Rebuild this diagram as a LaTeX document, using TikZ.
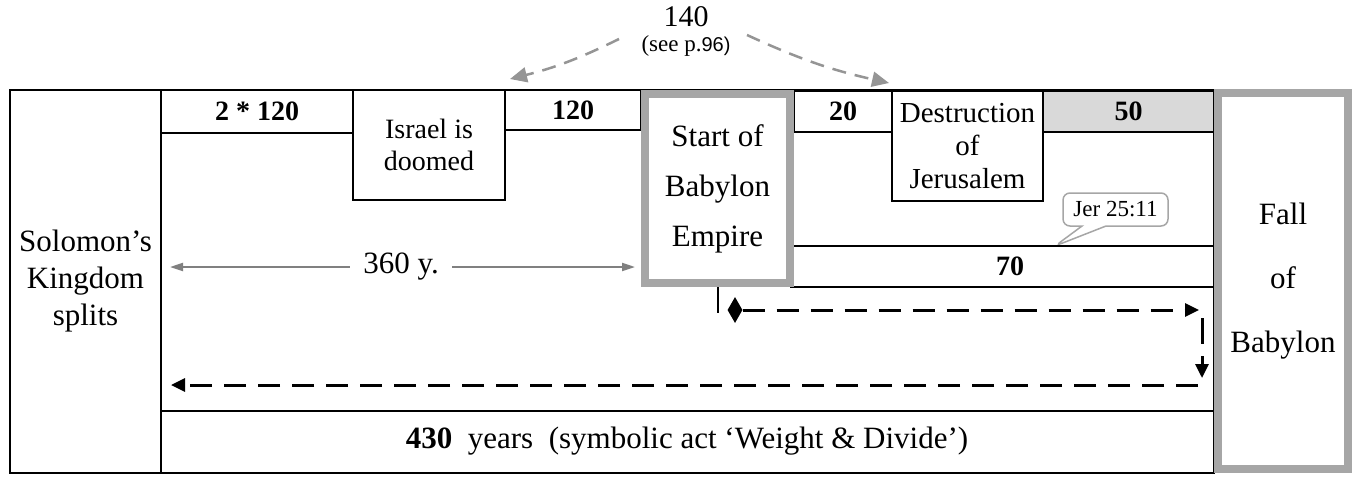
\documentclass[tikz,border=0pt]{standalone}
\usepackage{fontspec}
\setmainfont{Liberation Serif}
\newfontfamily\arialf{Liberation Sans}
\usetikzlibrary{shapes.geometric,shapes.callouts,arrows.meta}
\definecolor{gborder}{HTML}{A6A6A6}
\definecolor{gfill}{HTML}{D9D9D9}
\definecolor{garr}{HTML}{808080}
\begin{document}
\begin{tikzpicture}[x=1pt,y=-1pt,
  box/.style={draw=black, line width=1.5pt, inner sep=0pt, anchor=center},
  gbox/.style={draw=gborder, line width=8pt, inner sep=0pt, fill=white, anchor=center},
  lab/.style={font=\fontsize{31}{37}\selectfont, align=center},
  num/.style={font=\fontsize{28}{32}\selectfont\bfseries},
  thinline/.style={draw=black, line width=1.5pt},
  bigdash/.style={draw=black, line width=3pt, dash pattern=on 22pt off 12pt, -{Triangle[length=14pt,width=13pt]}},
  grayarr/.style={draw=garr, line width=2pt, -{Triangle[length=13pt,width=8pt]}},
  graydash/.style={draw=gborder!90!black, line width=2.5pt, dash pattern=on 14pt off 9pt, -{Triangle[length=17pt,width=15pt]}},
]
\useasboundingbox (0,0) rectangle (1356,477);
\fill[white] (0,0) rectangle (1356,477);

% outer frame
\node[box, minimum width=1204, minimum height=383] (frame) at (612,281.5) {};
% Solomon
\node[box, lab, minimum width=151, minimum height=383] (sol) at (85.5,281.5) {Solomon’s\\Kingdom\\splits};
% top boxes
\node[box, num, minimum width=192, minimum height=43] (b240) at (257,111.5) {2 * 120};
\node[box, lab, font=\fontsize{28}{32}\selectfont, minimum width=152, minimum height=110] (isr) at (429,145) {Israel is\\doomed};
\node[box, num, minimum width=136, minimum height=40] (b120) at (573,110) {120};
\node[box, num, minimum width=98, minimum height=41] (b20) at (843,111.5) {20};
\node[box, lab, font=\fontsize{29}{33}\selectfont, minimum width=151, minimum height=110] (jer) at (967.5,146) {Destruction\\of\\Jerusalem};
\node[box, num, fill=gfill, minimum width=171, minimum height=41] (b50) at (1128.5,111.5) {50};

% seventy lines
\coordinate (s1) at (794,246);
\coordinate (e1) at (1214,246);
\coordinate (s2) at (790,287);
\coordinate (e2) at (1214,287);
\draw[thinline] (s1) -- (e1);
\draw[thinline] (s2) -- (e2);
\node[num] (n70) at (1010,266) {70};

% bottom line
\coordinate (s3) at (161,411);
\coordinate (e3) at (1214,411);
\draw[thinline] (s3) -- (e3);
\node[lab, font=\fontsize{31}{37}\selectfont] (yrs) at (687,441) {\textbf{430}\enspace years\enspace (symbolic act ‘Weight \& Divide’)};

% gray boxes
\node[gbox, lab, font=\fontsize{31}{50}\selectfont, minimum width=145, minimum height=189] (sbe) at (717.5,188.5) {Start of\\Babylon\\Empire};
\node[gbox, lab, font=\fontsize{31}{64}\selectfont, minimum width=130, minimum height=376] (fob) at (1283,281) {Fall\\of\\Babylon};

% callout
\coordinate (tip) at (1055,246);
\node[rectangle callout, draw=gborder, fill=white, line width=1.5pt, rounded corners=7pt,
      callout absolute pointer={(tip)}, callout pointer width=24pt,
      minimum width=105, minimum height=33, inner sep=2pt,
      font=\fontsize{23}{26}\selectfont] (jr) at (1115.5,209.5) {Jer 25:11};

% 360 y.
\node[font=\fontsize{31}{37}\selectfont] (y360) at (401,267) {360 y.};
\coordinate (l360) at (170,267);
\coordinate (r360) at (635,267);
\draw[grayarr] (y360.west) ++(-10,0) -- (l360);
\draw[grayarr] (y360.east) ++(10,0) -- (r360);

% dashed path
\coordinate (v1) at (718,287);
\coordinate (v2) at (718,313);
\draw[thinline] (v1) -- (v2);
\node[diamond, fill=black, minimum width=15, minimum height=26, inner sep=0pt] (dia) at (735,310) {};
\coordinate (r1) at (1199,310);
\coordinate (r2) at (1202,318);
\coordinate (r3) at (1202,378);
\coordinate (r4) at (1198,385);
\coordinate (l1) at (171,385);
\draw[bigdash] (dia.east) -- (r1);
\draw[bigdash, dash pattern=on 26pt off 12pt] (r2) -- (r3);
\draw[bigdash] (r4) -- (l1);

% top 140
\node[font=\fontsize{30}{34}\selectfont] (n140) at (686,17) {140};
\node[font=\fontsize{23}{26}\selectfont] (see) at (686,46) {(see p.{\arialf\fontsize{20}{24}\selectfont 96)}};
\coordinate (a1) at (619,39);
\coordinate (t1) at (510,79);
\coordinate (a2) at (747,35);
\coordinate (t2) at (889,83);
\draw[graydash] (a1) to[bend left=6] (t1);
\draw[graydash] (a2) to[bend right=6] (t2);
\end{tikzpicture}
\end{document}
